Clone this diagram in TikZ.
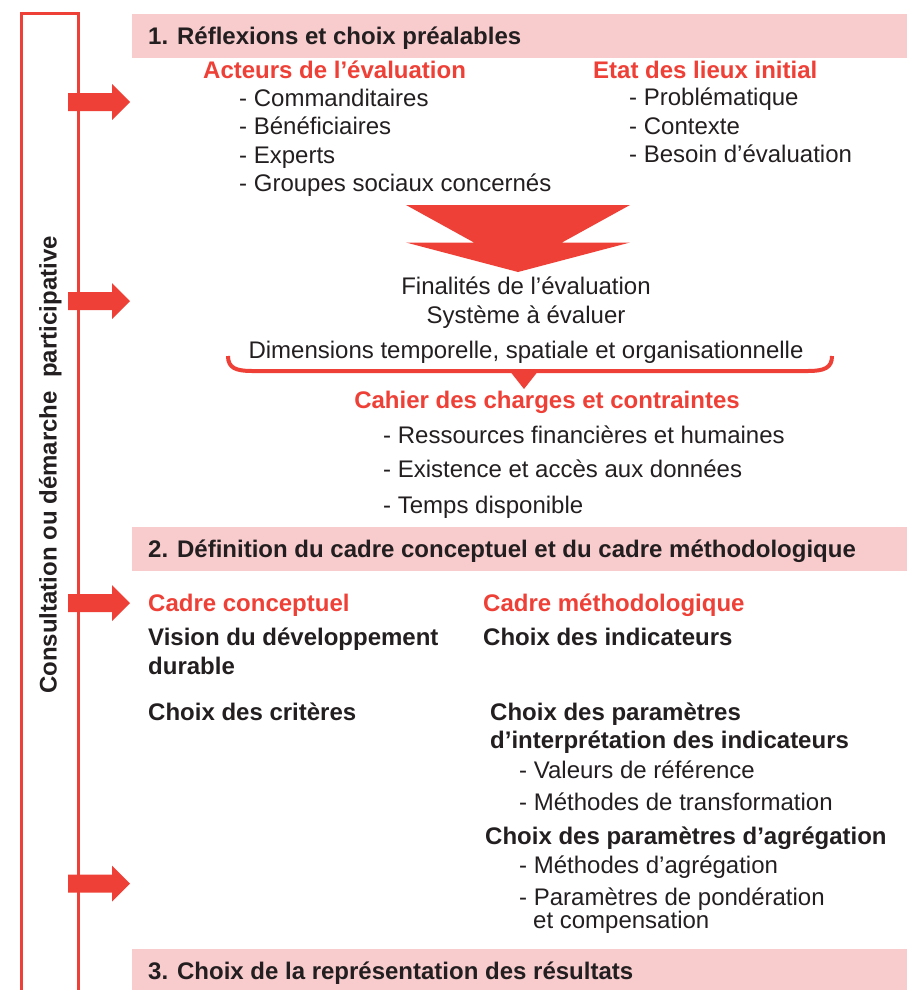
\documentclass[tikz,border=0pt]{standalone}
\usepackage{fontspec}
\setmainfont{Liberation Sans}
\usepackage{tikz}
\usetikzlibrary{positioning}
\definecolor{EvalRed}{HTML}{EE4036}
\definecolor{EvalPink}{HTML}{F8CBCD}
\definecolor{EvalInk}{HTML}{231F20}

\begin{document}
\begin{tikzpicture}[
    x=1pt, y=-1pt,
    node distance=6.5pt,
    txt/.style={
        inner sep=0pt, text height=17pt, text depth=5pt,
        text=EvalInk, font=\fontsize{24}{29}\selectfont
    },
    strong/.style={txt, font=\fontsize{24}{29}\selectfont\bfseries},
    head/.style={strong, text=EvalRed},
    banner/.style={
        rectangle, fill=EvalPink, anchor=north west,
        minimum width=775pt, minimum height=44pt, inner sep=0pt
    },
    bannertxt/.style={strong, text depth=0pt, anchor=west},
    side/.style={draw=EvalRed, line width=2.7pt},
    push/.style={fill=EvalRed}
]
\clip (0,0) rectangle (907,990);

% bandeaux des trois etapes
\node[banner] (b1) at (132,13.5) {};
\node[banner] (b2) at (132,527) {};
\node[banner] (b3) at (132,949) {};
\node[bannertxt, xshift=16pt] (t1) at (b1.west) {1. Réflexions et choix préalables};
\node[bannertxt, xshift=16pt] (t2) at (b2.west) {2. Définition du cadre conceptuel et du cadre méthodologique};
\node[bannertxt, xshift=16pt] (t3) at (b3.west) {3. Choix de la représentation des résultats};

% cadre de la concertation
\draw[side] (21.3,1000) -- (21.3,13.8) -- (78.7,13.8) -- (78.7,1000);
\node[strong, text depth=0pt, rotate=90] (consult) at (48,465)
    {Consultation ou démarche\ \ participative};
\foreach \ya in {102,301,603,883.5}
    \fill[push] (68,{\ya-9}) -- (112,{\ya-9}) -- (112,{\ya-18}) -- (130,\ya)
        -- (112,{\ya+18}) -- (112,{\ya+9}) -- (68,{\ya+9}) -- cycle;

% etape 1
\node[head, anchor=base west] (act) at (203,78) {Acteurs de l’évaluation};
\foreach \t [count=\i] in {Commanditaires, Bénéficiaires, Experts, Groupes sociaux concernés}
    \node[txt, anchor=base west] (act\i) at (239,{106+28.5*(\i-1)}) {- \t};

\node[head, anchor=base west] (etat) at (593,78) {Etat des lieux initial};
\foreach \t [count=\i] in {Problématique, Contexte, Besoin d’évaluation}
    \node[txt, anchor=base west] (etat\i) at (629,{105.5+28.5*(\i-1)}) {- \t};

\fill[push] (406,205) -- (630,205) -- (562,242.5) -- (630,242.5) -- (518,272)
    -- (406,242.5) -- (474,242.5) -- cycle;

\node[txt, anchor=base] (fin) at (526,294.5) {Finalités de l’évaluation};
\node[txt, below=of fin] (sys) {Système à évaluer};
\node[txt, below=13pt of sys] (dim) {Dimensions temporelle, spatiale et organisationnelle};

\draw[EvalRed, line width=4pt] (228,356) .. controls (228,368) and (236,371) .. (252,371)
    -- (808,371) .. controls (824,371) and (832,368) .. (832,356);
\fill[push] (509,370) -- (539,370) -- (524,389) -- cycle;

\node[head, anchor=base] (cdc) at (547,408) {Cahier des charges et contraintes};
\node[txt, anchor=base west] (res) at (383,443) {- Ressources financières et humaines};
\node[txt, below=11.7pt of res.south west, anchor=north west] (acc) {- Existence et accès aux données};
\node[txt, below=14.3pt of acc.south west, anchor=north west] (tps) {- Temps disponible};

% etape 2
\node[head, anchor=base west] (cc) at (148,611) {Cadre conceptuel};
\node[head, anchor=base west] (cm) at (483,611) {Cadre méthodologique};
\node[strong, below=12pt of cc.south west, anchor=north west] (vis) {Vision du développement};
\node[strong, below=7pt of vis.south west, anchor=north west] (dur) {durable};
\node[strong, below=12pt of cm.south west, anchor=north west] (ind) {Choix des indicateurs};
\node[strong, anchor=base west] (crit) at (148,720) {Choix des critères};

\node[strong, anchor=base west] (par) at (490,720) {Choix des paramètres};
\node[strong, below=6pt of par.south west, anchor=north west] (interp) {d’interprétation des indicateurs};
\node[txt, anchor=base west] (val) at (519,778) {- Valeurs de référence};
\node[txt, below=10pt of val.south west, anchor=north west] (trans) {- Méthodes de transformation};

\node[strong, anchor=base west] (agr) at (485,844) {Choix des paramètres d’agrégation};
\node[txt, anchor=base west] (magr) at (519,873) {- Méthodes d’agrégation};
\node[txt, below=10pt of magr.south west, anchor=north west] (pond) {- Paramètres de pondération};
\node[txt, anchor=base west] (comp) at (533,928) {et compensation};

\end{tikzpicture}
\end{document}
